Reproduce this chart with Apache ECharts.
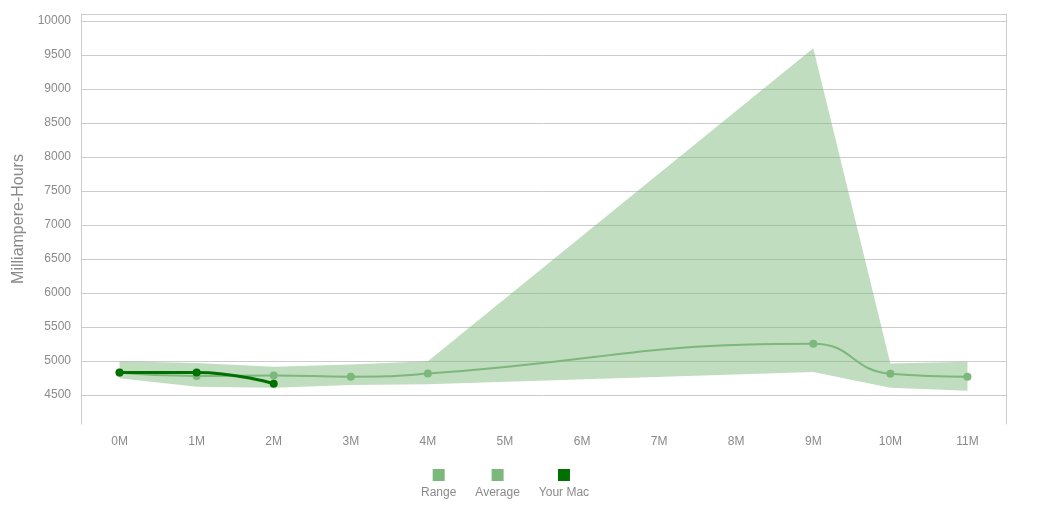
<!DOCTYPE html>
<html>
<head>
<meta charset="utf-8">
<script src="https://cdn.jsdelivr.net/npm/echarts@6/dist/echarts.min.js"></script>
<style>
html,body{margin:0;padding:0;background:#fff;}
#chart{width:1043px;height:526px;}
</style>
</head>
<body>
<div id="chart"></div>
<script>
const categories = ['0M','1M','2M','3M','4M','5M','6M','7M','8M','9M','10M','11M'];
const rangeLow  = [4745, 4622, 4607, 4647, 4660, null, null, null, null, 4838, 4607, 4563];
const rangeHigh = [4995, 4970, 4916, 4950, 4995, null, null, null, null, 9600, 4965, 4990];
const average   = [4828, 4779, 4789, 4770, 4815, null, null, null, null, 5254, 4813, 4770];
const yourMac   = [4830, 4833, 4666, null, null, null, null, null, null, null, null, null];
const yMin = 4074, yMax = 10103;

const rangeData = categories.map((c, i) => [i, rangeLow[i], rangeHigh[i]]);

const FONT = 'Liberation Sans, Arial, Helvetica, sans-serif';
const LIGHT = '#7cb77c';
const DARK = '#007000';
const LABEL = '#8a8a8a';

const chart = echarts.init(document.getElementById('chart'), null, {renderer: 'canvas'});
chart.setOption({
  animation: false,
  backgroundColor: '#fff',
  grid: {left: 81, right: 37, top: 14, bottom: 102, containLabel: false},
  legend: {
    top: 464,
    left: 411,
    itemGap: 14,
    itemWidth: 0,
    itemHeight: 0,
    icon: 'rect',
    selectedMode: false,
    data: ['Range', 'Average', 'Your Mac'],
    formatter: function (name) {
      const sq = name === 'Your Mac' ? 'sqd' : 'sql';
      return '{' + sq + '|}\n{t|' + name + '}';
    },
    textStyle: {
      fontFamily: FONT,
      rich: {
        sql: {backgroundColor: LIGHT, width: 12, height: 12, align: 'center'},
        sqd: {backgroundColor: DARK, width: 12, height: 12, align: 'center'},
        t: {fontFamily: FONT, fontSize: 12, color: LABEL, align: 'center', padding: [6, 0, 0, 0]}
      }
    }
  },
  xAxis: {
    type: 'category',
    data: categories,
    boundaryGap: true,
    axisLine: {show: false},
    axisTick: {show: false},
    axisLabel: {color: LABEL, fontFamily: FONT, fontSize: 12, margin: 12}
  },
  yAxis: [{
    type: 'value',
    min: yMin,
    max: yMax,
    splitNumber: 12,
    name: 'Milliampere-Hours',
    nameLocation: 'middle',
    nameGap: 52,
    nameTextStyle: {color: LABEL, fontFamily: FONT, fontSize: 16},
    axisLine: {show: true, lineStyle: {color: '#cccccc', width: 1}},
    axisTick: {show: false},
    axisLabel: {color: LABEL, fontFamily: FONT, fontSize: 12, margin: 10, showMinLabel: false, showMaxLabel: false,
      formatter: function (v) { return String(v); }},
    splitLine: {show: true, showMinLine: false, showMaxLine: true, lineStyle: {color: '#cccccc', width: 1}}
  }, {
    type: 'value',
    position: 'right',
    min: yMin,
    max: yMax,
    splitNumber: 12,
    axisLine: {show: true, lineStyle: {color: '#cccccc', width: 1}},
    axisTick: {show: false},
    axisLabel: {show: false},
    splitLine: {show: false}
  }],
  series: [
    {
      name: 'Range',
      type: 'custom',
      data: rangeData,
      color: LIGHT,
      silent: true,
      encode: {x: 0, y: [1, 2]},
      z: 1,
      renderItem: function (params, api) {
        if (params.dataIndex !== 0) return null;
        const upper = [], lower = [];
        for (let i = 0; i < rangeData.length; i++) {
          const d = rangeData[i];
          if (d[1] == null || d[2] == null) continue;
          upper.push(api.coord([d[0], d[2]]));
          lower.push(api.coord([d[0], d[1]]));
        }
        const pts = upper.concat(lower.reverse());
        return {
          type: 'polygon',
          shape: {points: pts},
          style: {fill: 'rgba(124,183,124,0.48)'}
        };
      }
    },
    {
      name: 'Average',
      type: 'line',
      data: average,
      connectNulls: true,
      smooth: 0.5,
      color: LIGHT,
      symbol: 'circle',
      symbolSize: 8,
      showSymbol: true,
      lineStyle: {width: 2, color: LIGHT},
      itemStyle: {color: LIGHT},
      z: 3
    },
    {
      name: 'Your Mac',
      type: 'line',
      data: yourMac,
      smooth: 0.5,
      color: DARK,
      symbol: 'circle',
      symbolSize: 8,
      lineStyle: {width: 3, color: DARK},
      itemStyle: {color: DARK},
      z: 4
    }
  ]
});
</script>
</body>
</html>
